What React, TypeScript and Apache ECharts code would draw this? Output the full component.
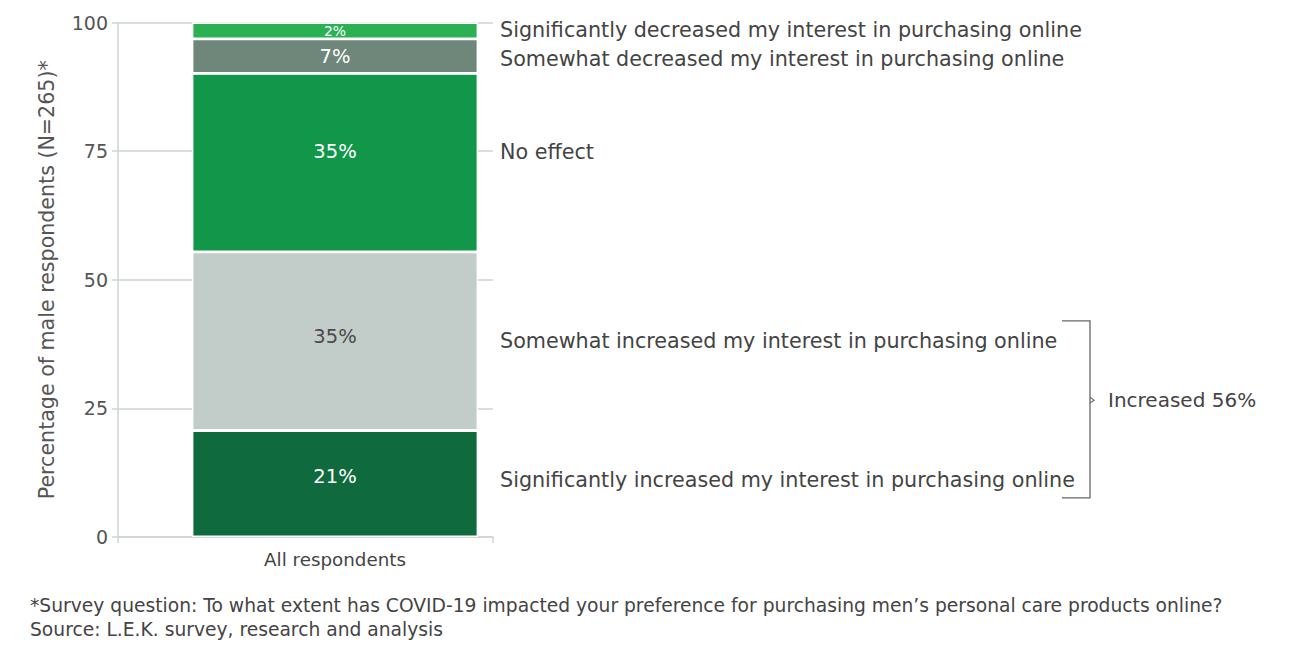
import * as echarts from 'echarts';
import React, { useEffect, useRef } from 'react';

const categories = ['All respondents'];

// stacked from the bottom up
const segmentNames = [
  'Significantly increased my interest in purchasing online',
  'Somewhat increased my interest in purchasing online',
  'No effect',
  'Somewhat decreased my interest in purchasing online',
  'Significantly decreased my interest in purchasing online',
];
const segmentShares = [20.7, 34.7, 34.7, 6.7, 3.2];
const segmentLabels = ['21%', '35%', '35%', '7%', '2%'];
const segmentColors = ['#0f6b3d', '#c2cdca', '#12964a', '#6f867a', '#2bb153'];
const segmentTextColors = ['#ffffff', '#4a4a4a', '#ffffff', '#ffffff', '#ffffff'];

const yTicks = [0, 25, 50, 75, 100];

const increasedLabel = 'Increased 56%';
const footnotes = [
  '*Survey question: To what extent has COVID-19 impacted your preference for purchasing men\u2019s personal care products online?',
  'Source: L.E.K. survey, research and analysis',
];

const FONT = '"DejaVu Sans", Verdana, sans-serif';
const TEXT = '#555555';
const AXIS = '#cdd5d3';

const BAR_W = 286;
// empty bar on the left pushes the real bar right of the band centre, as in the original
const PAD_W = 59;

// pixel nudges (annotation layout only)
const sideNudge = [-4, 0, -11, 3, -1];
const innerNudge = [-7, -5, -11, 0, 0];

const App: React.FC = () => {
  const chartRef = useRef<HTMLDivElement>(null);

  useEffect(() => {
    if (!chartRef.current) return;
    const chart = echarts.init(chartRef.current, undefined, { renderer: 'svg' });

    const option: echarts.EChartsOption = {
      animation: false,
      backgroundColor: '#ffffff',
      grid: { left: 118, right: 807, top: 22.5, bottom: 118 },
      xAxis: {
        type: 'category',
        data: categories,
        axisLine: { lineStyle: { color: AXIS, width: 1.5 } },
        axisTick: { show: true, length: 6, lineStyle: { color: AXIS, width: 1.5 } },
        axisLabel: {
          color: '#444444',
          fontSize: 18.3,
          fontFamily: FONT,
          margin: 13,
          padding: [0, 0, 0, PAD_W],
        },
      },
      yAxis: {
        type: 'value',
        min: yTicks[0],
        max: yTicks[yTicks.length - 1],
        interval: 25,
        name: 'Percentage of male respondents (N=265)*',
        nameLocation: 'middle',
        nameRotate: 90,
        nameGap: 61,
        nameTextStyle: { color: TEXT, fontSize: 20.6, fontFamily: FONT },
        axisLine: { show: true, lineStyle: { color: AXIS, width: 1.5 } },
        axisTick: { show: true, length: 6, lineStyle: { color: AXIS, width: 1.5 } },
        axisLabel: { color: TEXT, fontSize: 19, fontFamily: FONT, margin: 10 },
        splitLine: { show: true, lineStyle: { color: AXIS, width: 1.5 } },
      },
      series: [
        {
          name: 'pad',
          type: 'bar',
          stack: 'pad',
          barWidth: PAD_W,
          barGap: '0%',
          data: [0],
          itemStyle: { color: 'transparent' },
          silent: true,
        },
        ...segmentNames.map((name, i) => ({
          name,
          type: 'bar' as const,
          stack: 'total',
          barWidth: BAR_W,
          barGap: '0%',
          data: [segmentShares[i]],
          itemStyle: { color: segmentColors[i], borderColor: '#ffffff', borderWidth: 1.4 },
          label: {
            show: true,
            position: 'inside' as const,
            offset: [0, innerNudge[i]],
            formatter: () => segmentLabels[i],
            color: segmentTextColors[i],
            fontSize: segmentShares[i] < 5 ? 14 : 19.5,
            fontFamily: FONT,
          },
          z: 3,
        })),
      ],
    };

    chart.setOption(option);

    const bandCenterX = chart.convertToPixel({ xAxisIndex: 0 }, categories[0]) as number;
    const barCenterX = bandCenterX + PAD_W / 2;
    const textX = barCenterX + BAR_W / 2 + 22;
    const yPx = (v: number) => chart.convertToPixel({ yAxisIndex: 0 }, v) as number;

    let cum = 0;
    const sideTexts = segmentNames.map((name, i) => {
      const center = cum + segmentShares[i] / 2;
      cum += segmentShares[i];
      return {
        type: 'text' as const,
        x: textX,
        y: yPx(center) + sideNudge[i],
        style: {
          text: name,
          fill: '#444444',
          fontSize: 20.7,
          fontFamily: FONT,
          align: 'left' as const,
          verticalAlign: 'middle' as const,
        },
      };
    });

    const bTop = yPx(42);
    const bBottom = yPx(7.6);
    const bMid = yPx(26.6);
    const bx = 1090;

    chart.setOption({
      graphic: [
        ...sideTexts,
        {
          type: 'polyline',
          shape: { points: [[bx - 28, bTop], [bx, bTop], [bx, bBottom], [bx - 28, bBottom]] },
          style: { stroke: '#666666', lineWidth: 1.3, fill: 'none' },
        },
        {
          type: 'polyline',
          shape: { points: [[bx, bMid - 3], [bx + 4, bMid], [bx, bMid + 3]] },
          style: { stroke: '#666666', lineWidth: 1.2, fill: 'none' },
        },
        {
          type: 'text',
          x: bx + 18,
          y: bMid,
          style: {
            text: increasedLabel,
            fill: '#444444',
            fontSize: 20,
            fontFamily: FONT,
            align: 'left',
            verticalAlign: 'middle',
          },
        },
        ...footnotes.map((t, i) => ({
          type: 'text' as const,
          x: 30,
          y: 605 + i * 24,
          style: {
            text: t,
            fill: '#444444',
            fontSize: 18.7,
            fontFamily: FONT,
            align: 'left' as const,
            verticalAlign: 'middle' as const,
          },
        })),
      ],
    });

    return () => {
      chart.dispose();
    };
  }, []);

  return (
    <div
      ref={chartRef}
      style={{ position: 'fixed', left: 0, top: 0, width: '1300px', height: '655px' }}
    />
  );
};

export default App;
